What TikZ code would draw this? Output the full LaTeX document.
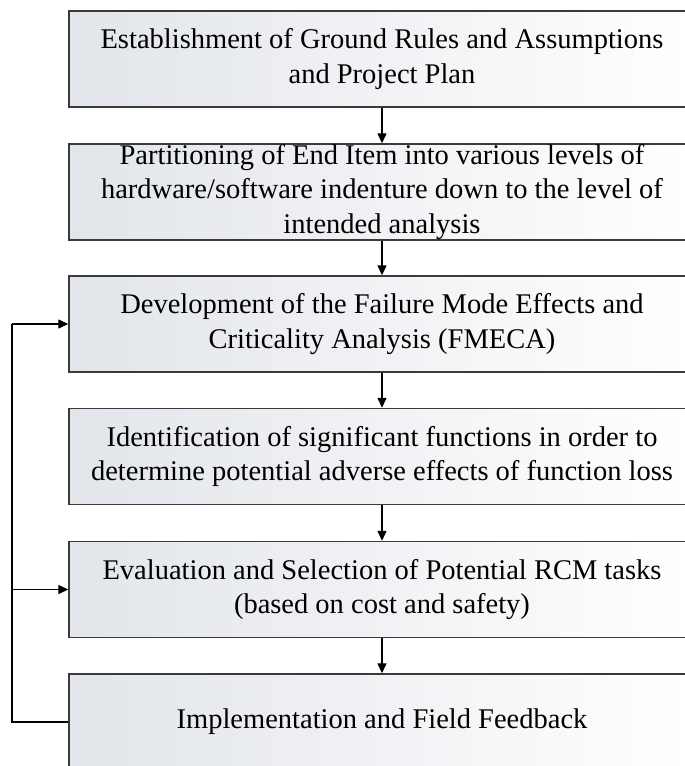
\documentclass[tikz,border=0pt]{standalone}
\usepackage{fontspec}
\setmainfont{Liberation Serif}
\usetikzlibrary{arrows.meta}
\definecolor{boxgray}{HTML}{E2E5EA}
\definecolor{edgegray}{HTML}{3A3A3A}
\tikzset{
  stepbox/.style={draw=edgegray, line width=1.4pt, left color=boxgray, right color=white,
    minimum width=626pt, minimum height=96pt, inner sep=0pt,
    align=center, font=\fontsize{28.5}{34.5}\selectfont},
  flow/.style={draw=black, line width=1.3pt, -{Triangle[length=10pt,width=9pt]}},
  link/.style={draw=black, line width=1.3pt}
}
\begin{document}
\begin{tikzpicture}[x=1pt,y=1pt]
\path[use as bounding box, clip] (0,0) rectangle (685,-766);
\node[stepbox] (b1) at (382,-59) {Establishment of Ground Rules and Assumptions\\and Project Plan};
\node[stepbox] (b2) at (382,-192) {Partitioning of End Item into various levels of\\hardware/software indenture down to the level of\\intended analysis};
\node[stepbox] (b3) at (382,-324) {Development of the Failure Mode Effects and\\Criticality Analysis (FMECA)};
\node[stepbox] (b4) at (382,-456.5) {Identification of significant functions in order to\\determine potential adverse effects of function loss};
\node[stepbox] (b5) at (382,-589.5) {Evaluation and Selection of Potential RCM tasks\\(based on cost and safety)};
\node[stepbox] (b6) at (382,-722) {Implementation and Field Feedback};
\draw[flow] (b1) -- (b2);
\draw[flow] (b2) -- (b3);
\draw[flow] (b3) -- (b4);
\draw[flow] (b4) -- (b5);
\draw[flow] (b5) -- (b6);
\coordinate (c3) at (12,-324);
\coordinate (c5) at (12,-589.5);
\coordinate (c6) at (12,-722);
\draw[link] (b6.west) -- (c6) -- (c3);
\draw[flow] (c3) -- (b3.west);
\draw[flow] (c5) -- (b5.west);
\end{tikzpicture}
\end{document}
